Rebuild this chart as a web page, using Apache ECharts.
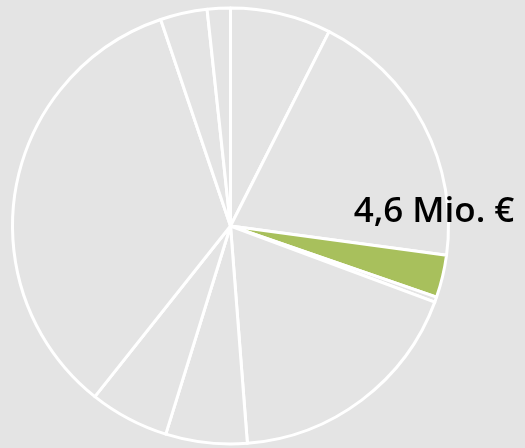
<!DOCTYPE html>
<html>
<head>
<meta charset="utf-8">
<script src="https://cdn.jsdelivr.net/npm/echarts@6/dist/echarts.min.js"></script>
<style>
  html, body { margin: 0; padding: 0; background: #e4e4e4; }
  #chart { width: 525px; height: 448px; }
</style>
</head>
<body>
<div id="chart"></div>
<script>
// Werte in Mio. €, im Uhrzeigersinn ab 12 Uhr
const names = ['A', 'B', 'C', 'D', 'E', 'F', 'G', 'H', 'I', 'J']
const values = [10.9, 28.7, 4.6, 0.57, 26.4, 8.8, 8.6, 49.8, 5.07, 2.5]
const highlight = 2 // grünes Segment
const highlightLabel = '4,6 Mio. €'

const myChart = echarts.init(document.getElementById('chart'))

const data = values.map(function (v, i) {
  const item = { name: names[i], value: v }
  if (i === highlight) {
    item.itemStyle = { color: '#a8c05c' }
    item.label = { show: true, formatter: highlightLabel }
  }
  return item
})

const option = {
  backgroundColor: '#e4e4e4',
  animation: false,
  series: [
    {
      type: 'pie',
      center: [230.5, 226],
      radius: [0, 218],
      startAngle: 90,
      clockwise: true,
      minAngle: 0,
      avoidLabelOverlap: false,
      itemStyle: {
        color: '#e4e4e4',
        borderColor: '#ffffff',
        borderWidth: 3,
      },
      label: {
        show: false,
        position: 'outside',
        color: '#000000',
        fontFamily: 'Open Sans',
        fontWeight: 600,
        fontSize: 35,
      },
      labelLine: { show: false },
      labelLayout: function (params) {
        if (params.dataIndex !== highlight) return {}
        return { x: 434, y: 212, align: 'center', verticalAlign: 'middle' }
      },
      emphasis: { disabled: true },
      data: data,
    },
  ],
}

myChart.setOption(option)
</script>
</body>
</html>
